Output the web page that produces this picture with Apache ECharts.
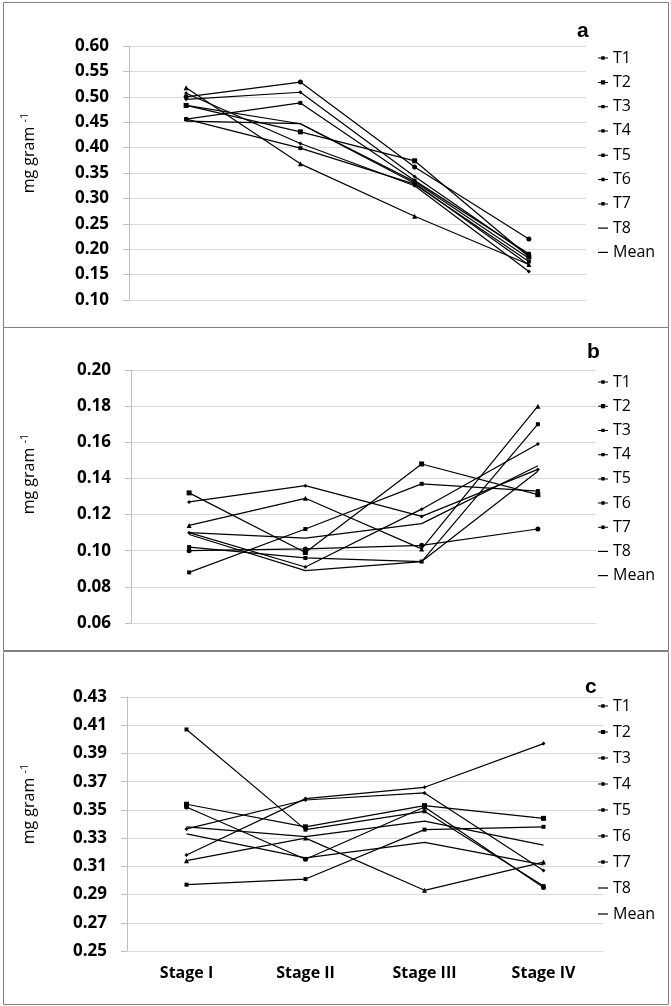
<!DOCTYPE html>
<html>
<head>
<meta charset="utf-8">
<script src="https://cdn.jsdelivr.net/npm/echarts@6/dist/echarts.min.js"></script>
<style>
html,body{margin:0;padding:0;background:#fff;}
#chart{width:671px;height:1006px;}
</style>
</head>
<body>
<div id="chart"></div>
<script>
// ---- data ----
const categories = ['Stage I', 'Stage II', 'Stage III', 'Stage IV'];
const seriesNames = ['T1', 'T2', 'T3', 'T4', 'T5', 'T6', 'T7', 'T8', 'Mean'];

// panel a (rows follow seriesNames)
const panelA = [
  [0.507, 0.408, 0.325, 0.156],
  [0.483, 0.431, 0.374, 0.185],
  [0.518, 0.368, 0.265, 0.170],
  [0.456, 0.399, 0.328, 0.176],
  [0.495, 0.509, 0.343, 0.188],
  [0.500, 0.529, 0.362, 0.220],
  [0.456, 0.488, 0.335, 0.191],
  [0.452, 0.447, 0.330, 0.169],
  [0.483, 0.447, 0.333, 0.182]
];
// panel b
const panelB = [
  [0.127, 0.136, 0.119, 0.145],
  [0.132, 0.099, 0.148, 0.131],
  [0.114, 0.129, 0.101, 0.180],
  [0.088, 0.112, 0.137, 0.133],
  [0.110, 0.091, 0.123, 0.159],
  [0.100, 0.101, 0.103, 0.112],
  [0.102, 0.096, 0.094, 0.170],
  [0.109, 0.089, 0.094, 0.144],
  [0.110, 0.107, 0.115, 0.147]
];
// panel c
const panelC = [
  [0.318, 0.358, 0.366, 0.397],
  [0.354, 0.338, 0.353, 0.344],
  [0.314, 0.330, 0.293, 0.313],
  [0.407, 0.336, 0.349, 0.296],
  [0.3365, 0.357, 0.362, 0.307],
  [0.352, 0.315, 0.352, 0.295],
  [0.297, 0.301, 0.336, 0.338],
  [0.333, 0.316, 0.327, 0.311],
  [0.338, 0.331, 0.342, 0.325]
];

const ticksA = [0.10, 0.15, 0.20, 0.25, 0.30, 0.35, 0.40, 0.45, 0.50, 0.55, 0.60];
const ticksB = [0.06, 0.08, 0.10, 0.12, 0.14, 0.16, 0.18, 0.20];
const ticksC = [0.25, 0.27, 0.29, 0.31, 0.33, 0.35, 0.37, 0.39, 0.41, 0.43];
const panelLetters = ['a', 'b', 'c'];

// ---- styling ----
const symbols = ['diamond', 'rect', 'triangle', 'rect', 'diamond', 'circle', 'rect', 'none', 'none'];
const symbolSizes = [4, 5, 5, 4, 4, 5, 4, 0, 0];
const gridDefs = [
  {left: 129, top: 46, width: 457, height: 254},
  {left: 131, top: 370, width: 465, height: 253},
  {left: 127, top: 697, width: 476, height: 254}
];
const tickSets = [ticksA, ticksB, ticksC];
const panels = [panelA, panelB, panelC];
const legendTops = [50, 374, 698];
const legendGaps = [8.3, 8.2, 10];

const chart = echarts.init(document.getElementById('chart'), null, {renderer: 'canvas'});

const markIcon = 'path://M0,2.1H10V3.1H0Z M3.3,0.8H6.7V4.2H3.3Z';
const bigMarkIcon = 'path://M0,2.1H10V3.1H0Z M2.9,0.4H7.1V4.6H2.9Z';

const xAxes = [], yAxes = [], series = [], legends = [];
for (let p = 0; p < 3; p++) {
  xAxes.push({
    type: 'category', gridIndex: p, data: categories, boundaryGap: true,
    axisLine: {show: true, lineStyle: {color: '#d9d9d9', width: 1}},
    axisTick: {show: false},
    axisLabel: {show: p === 2, color: '#000', fontFamily: 'Open Sans', fontWeight: 'bold', fontSize: 16, margin: 14}
  });
  const t = tickSets[p];
  yAxes.push({
    type: 'value', gridIndex: p, min: t[0], max: t[t.length - 1],
    axisLine: {show: true, lineStyle: {color: '#bfbfbf', width: 1}},
    axisTick: {show: true, length: 6, lineStyle: {color: '#bfbfbf'}, customValues: t},
    axisLabel: {
      color: '#000', fontFamily: 'Open Sans', fontWeight: 'bold', fontSize: 17, margin: 20,
      customValues: t, formatter: v => v.toFixed(2)
    },
    splitLine: {show: true, lineStyle: {color: '#d9d9d9', width: 1}}
  });
  for (let i = 0; i < seriesNames.length; i++) {
    series.push({
      type: 'line', name: seriesNames[i], xAxisIndex: p, yAxisIndex: p,
      data: panels[p][i],
      symbol: symbols[i], symbolSize: symbolSizes[i], showSymbol: symbols[i] !== 'none',
      lineStyle: {color: '#000', width: 1.2},
      itemStyle: {color: '#000'},
      silent: true, animation: false
    });
  }
  const rowH = 16 + legendGaps[p];
  const textStyle = {fontFamily: 'Open Sans', fontSize: 16, color: '#000', lineHeight: 16};
  legends.push({
    data: seriesNames.slice(0, 7).map((n, i) => ({name: n, icon: i === 1 ? bigMarkIcon : markIcon})),
    orient: 'vertical', left: 598, top: legendTops[p],
    itemGap: legendGaps[p], itemWidth: 10, itemHeight: 5, padding: 0,
    selectedMode: false, itemStyle: {color: '#000', borderWidth: 0}, textStyle: textStyle
  });
  legends.push({
    data: seriesNames.slice(7).map(n => ({name: n, icon: 'rect'})),
    orient: 'vertical', left: 598, top: legendTops[p] + 7 * rowH,
    itemGap: legendGaps[p], itemWidth: 10, itemHeight: 1.2, padding: 0,
    selectedMode: false, itemStyle: {color: '#000', borderWidth: 0}, textStyle: textStyle
  });
}

const boxes = [[3, 2, 665, 325], [3, 327, 665, 323], [3, 651, 665, 353]];
const letterPos = [[577, 42], [587, 363], [585, 698]];
const namePos = [[29, 153], [29, 474], [29, 804]];
const graphics = [];
boxes.forEach(b => graphics.push({
  type: 'rect', shape: {x: b[0] + 0.5, y: b[1] + 0.5, width: b[2], height: b[3]},
  style: {fill: 'none', stroke: '#808080', lineWidth: 1}, silent: true
}));
letterPos.forEach((lp, i) => graphics.push({
  type: 'text', x: lp[0], y: lp[1],
  style: {text: panelLetters[i], fontFamily: 'Liberation Sans', fontWeight: 'bold', fontSize: 21,
          fill: '#000', verticalAlign: 'bottom'}, silent: true
}));
namePos.forEach(np => graphics.push({
  type: 'text', x: np[0], y: np[1], rotation: Math.PI / 2,
  style: {
    text: '{a|mg gram }{b|-1}', align: 'center', verticalAlign: 'middle',
    rich: {
      a: {fontFamily: 'Open Sans', fontSize: 16, fill: '#000', lineHeight: 20},
      b: {fontFamily: 'Open Sans', fontSize: 11, fill: '#000', lineHeight: 20, padding: [0, 0, 9, 0]}
    }
  }, silent: true
}));

chart.setOption({
  animation: false,
  backgroundColor: '#fff',
  grid: gridDefs,
  xAxis: xAxes,
  yAxis: yAxes,
  legend: legends,
  series: series,
  graphic: graphics
});
</script>
</body>
</html>
